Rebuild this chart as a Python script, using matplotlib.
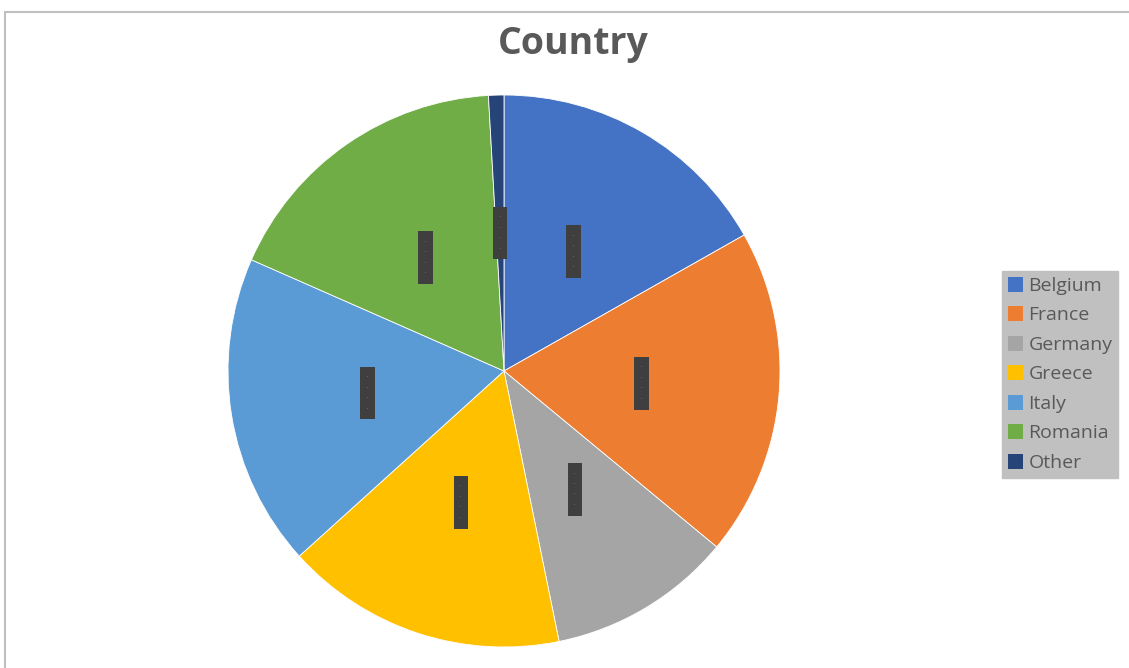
import matplotlib.pyplot as plt
from matplotlib.patches import Rectangle

countries = ["Belgium", "France", "Germany", "Greece", "Italy", "Romania", "Other"]
shares = [16.8, 19.2, 10.8, 16.5, 18.3, 17.5, 0.9]
colors = ["#4472C4", "#ED7D31", "#A5A5A5", "#FFC000", "#5B9BD5", "#70AD47", "#264478"]

W, H = 1129, 668
fig = plt.figure(figsize=(W / 100, H / 100), dpi=100)
fig.patch.set_facecolor("white")

# chart area border (runs off the right and bottom)
fig.patches.append(Rectangle((5 / W, -0.05), 1.1, 1 - 12 / H + 0.05,
                             transform=fig.transFigure, fill=False,
                             edgecolor="#bfbfbf", linewidth=1.5))

cx, cy, r = 504, 371, 276
ax = fig.add_axes([(cx - r) / W, (H - cy - r) / H, 2 * r / W, 2 * r / H])

wedges, texts = ax.pie(shares, colors=colors, startangle=90, counterclock=False,
                       labels=["·\n·\n·\n·"] * len(shares), labeldistance=0.5,
                       wedgeprops=dict(edgecolor="white", linewidth=0.6),
                       textprops=dict(fontsize=7, color="#6a6a6a", ha="center",
                                      va="center", linespacing=1.05))
for t in texts:
    t.set_bbox(dict(boxstyle="square,pad=0.6", fc="#3f3f3f", ec="none"))
ax.set_xlim(-1, 1)
ax.set_ylim(-1, 1)
ax.set_aspect("equal")

fig.text(573 / W, 1 - 44 / H, "Country", ha="center", va="center",
         fontsize=27, fontweight="bold", color="#595959", family="Open Sans")

leg = fig.legend(wedges, countries, loc="upper left",
                 bbox_to_anchor=(1002 / W, 1 - 271 / H),
                 frameon=True, fancybox=False, framealpha=1,
                 facecolor="#c0c0c0", edgecolor="#c0c0c0",
                 prop=dict(family="Open Sans", size=14),
                 handlelength=0.8, handleheight=0.8, handletextpad=0.25,
                 labelspacing=0.58, borderpad=0.3, borderaxespad=0)
for t in leg.get_texts():
    t.set_color("#595959")
for h in leg.legend_handles:
    h.set_edgecolor("none")

fig.savefig("out.png", dpi=100)
